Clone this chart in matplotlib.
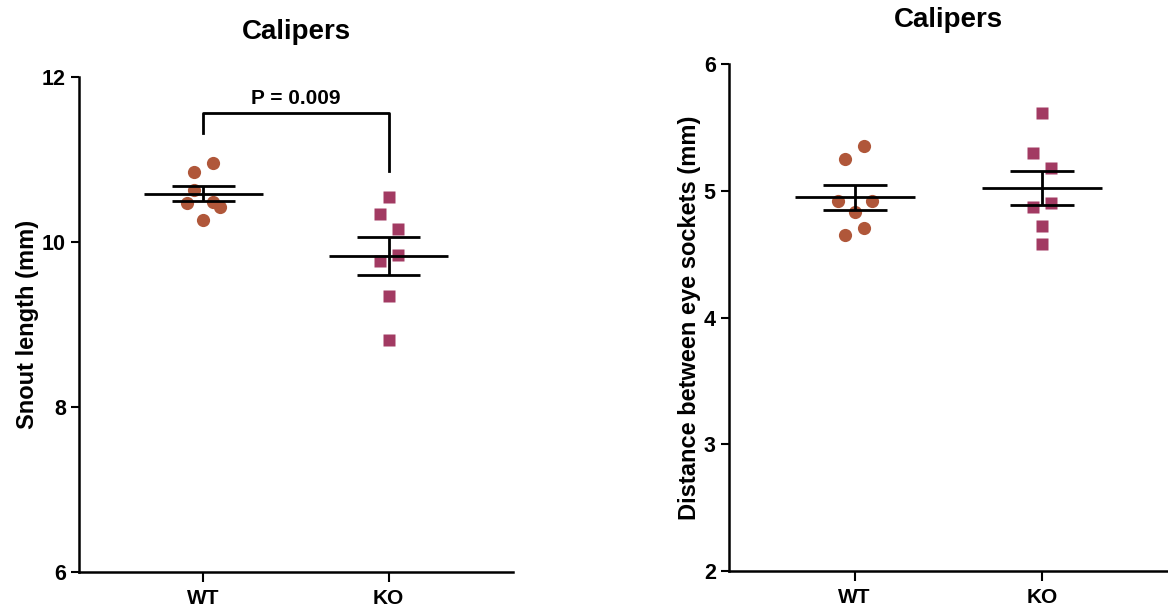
import numpy as np
import matplotlib
matplotlib.use('Agg')
from matplotlib import pyplot as plt

plt.rcParams['font.family'] = ['Liberation Sans', 'DejaVu Sans']
plt.rcParams['font.weight'] = 'bold'

groups = ['WT', 'KO']

# snout length (mm)
snout_wt = [10.96, 10.85, 10.63, 10.47, 10.49, 10.42, 10.27]
snout_ko = [10.55, 10.34, 10.16, 9.84, 9.77, 9.35, 8.81]
# distance between eye sockets (mm)
eye_wt = [5.35, 5.25, 4.92, 4.92, 4.83, 4.71, 4.65]
eye_ko = [5.61, 5.30, 5.18, 4.87, 4.90, 4.72, 4.58]

# horizontal scatter offsets of the points
jit_snout_wt = [0.05, -0.05, -0.05, -0.09, 0.05, 0.09, 0.0]
jit_snout_ko = [0.0, -0.045, 0.05, 0.05, -0.045, 0.0, 0.0]
jit_eye_wt = [0.05, -0.05, -0.09, 0.095, 0.0, 0.05, -0.05]
jit_eye_ko = [0.0, -0.05, 0.045, -0.05, 0.045, 0.0, 0.0]

p_text = 'P = 0.009'

c_wt = '#B0573A'
c_ko = '#A23A62'
fs = 15


def dotplot(ax, wt, ko, jwt, jko, ylim, yticks, ylabel):
    for i, (vals, jit, mk, col) in enumerate([(wt, jwt, 'o', c_wt), (ko, jko, 's', c_ko)]):
        x = i + 1
        v = np.array(vals)
        ax.plot(x + np.array(jit), v, mk, color=col, ms=9.5 if mk == 'o' else 8.5,
                mec='none', zorder=2)
        m = v.mean()
        sem = v.std(ddof=1) / np.sqrt(len(v))
        ax.hlines(m, x - 0.32, x + 0.32, color='k', lw=2, zorder=3)
        ax.hlines([m - sem, m + sem], x - 0.17, x + 0.17, color='k', lw=2, zorder=3)
        ax.vlines(x, m - sem, m + sem, color='k', lw=2, zorder=3)
    ax.set_xlim(0.33, 2.67)
    ax.set_ylim(*ylim)
    ax.set_yticks(yticks)
    ax.set_xticks([1, 2])
    ax.set_xticklabels(groups, fontsize=fs, fontweight='bold')
    ax.tick_params(axis='y', labelsize=15.5, width=1.5, length=6)
    ax.tick_params(axis='x', width=1.5, length=7, pad=5)
    for lab in ax.get_yticklabels():
        lab.set_fontweight('bold')
    ax.spines['top'].set_visible(False)
    ax.spines['right'].set_visible(False)
    ax.spines['left'].set_linewidth(1.8)
    ax.spines['bottom'].set_linewidth(1.8)
    ax.set_ylabel(ylabel, fontsize=17, fontweight='bold', labelpad=2)


fig = plt.figure(figsize=(11.68, 6.10), dpi=100)
ax1 = fig.add_axes([0.0676, 0.0623, 0.3716, 0.8115])
ax2 = fig.add_axes([0.6241, 0.0639, 0.3759, 0.8311])

dotplot(ax1, snout_wt, snout_ko, jit_snout_wt, jit_snout_ko, (6, 12), [6, 8, 10, 12],
        'Snout length (mm)')
dotplot(ax2, eye_wt, eye_ko, jit_eye_wt, jit_eye_ko, (2, 6), [2, 3, 4, 5, 6],
        'Distance between eye sockets (mm)')

# significance bracket
ax1.plot([1, 1, 2, 2], [11.32, 11.56, 11.56, 10.86], color='k', lw=2, clip_on=False)
ax1.text(1.5, 11.63, p_text, ha='center', va='bottom', fontsize=fs, fontweight='bold')

ax1.set_title('Calipers', fontsize=20, fontweight='bold', pad=27)
ax2.set_title('Calipers', fontsize=20, fontweight='bold', pad=27)

fig.savefig('out.png', dpi=100)
